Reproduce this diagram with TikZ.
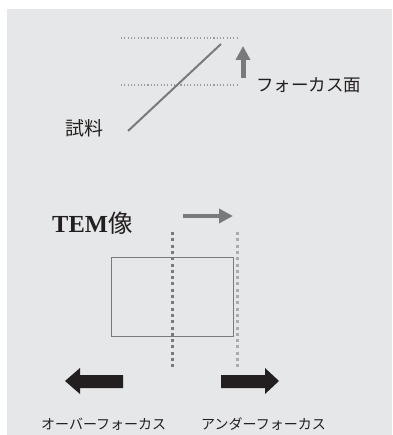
\documentclass[tikz,border=0pt]{standalone}
\usepackage{fontspec}
\setmainfont{Liberation Serif}
\newfontfamily\jp{Noto Sans CJK JP}
\usetikzlibrary{arrows.meta}
\definecolor{bg}{HTML}{E6E7E8}
\definecolor{midgray}{HTML}{7A7A7A}
\definecolor{lightgray2}{HTML}{9C9C9C}
\definecolor{blk}{HTML}{231F20}
\tikzset{
  lbl/.style={inner sep=0pt, font=\jp, text=blk},
  hdot/.style={lightgray2, line width=1.1pt, dash pattern=on 1.1pt off 2.2pt},
  vdot/.style={line width=3pt, dash pattern=on 3pt off 3.3pt},
  grayarrow/.style={midgray, -{Triangle[length=14pt,width=14pt]}},
  blockarrow/.style={fill=blk, draw=none}
}
\begin{document}
\begin{tikzpicture}[x=1pt,y=-1pt]
\useasboundingbox (0,0) rectangle (392,435);
\fill[bg] (7,9) rectangle (392,435);
% top part
\coordinate (u1) at (121,38); \coordinate (u2) at (237,38);
\coordinate (l1) at (121,85); \coordinate (l2) at (237,85);
\draw[hdot] (u1) -- (u2);
\draw[hdot] (l1) -- (l2);
\coordinate (s1) at (128,131); \coordinate (s2) at (221,44);
\draw[midgray, line width=2pt] (s1) -- (s2);
\coordinate (ua1) at (243,78); \coordinate (ua2) at (243,46);
\draw[grayarrow, line width=5pt] (ua1) -- (ua2);
\node[lbl, font=\jp\fontsize{17.5}{17.5}\selectfont, anchor=west] (focus) at (256,85) {フォーカス面};
\node[lbl, font=\jp\fontsize{19}{19}\selectfont, anchor=west] (sample) at (65,128) {試料};
% bottom part
\node[inner sep=0pt, anchor=west, text=blk] (tem) at (52,223)
  {\fontsize{24.5}{24.5}\selectfont\bfseries TEM{\jp\mdseries 像}};
\coordinate (ra1) at (183,216); \coordinate (ra2) at (233,216);
\draw[grayarrow, line width=4pt] (ra1) -- (ra2);
\node[draw=midgray, line width=1pt, minimum width=122pt, minimum height=79pt, inner sep=0pt, anchor=north west] (img) at (111,257) {};
\coordinate (v1a) at (172,232); \coordinate (v1b) at (172,368);
\coordinate (v2a) at (237,232); \coordinate (v2b) at (237,368);
\draw[vdot, color=midgray] (v1a) -- (v1b);
\draw[vdot, color=lightgray2!85] (v2a) -- (v2b);
% black block arrows
\fill[blockarrow] (65,381) -- (80,368) -- (80,375) -- (123,375) -- (123,388) -- (80,388) -- (80,394) -- cycle;
\fill[blockarrow] (279,381) -- (265,368) -- (265,375) -- (221,375) -- (221,388) -- (265,388) -- (265,394) -- cycle;
\node[lbl, font=\jp\fontsize{14}{14}\selectfont, anchor=west] (over) at (41,424) {オーバーフォーカス};
\node[lbl, font=\jp\fontsize{14}{14}\selectfont, anchor=west] (under) at (201,424) {アンダーフォーカス};
\end{tikzpicture}
\end{document}
